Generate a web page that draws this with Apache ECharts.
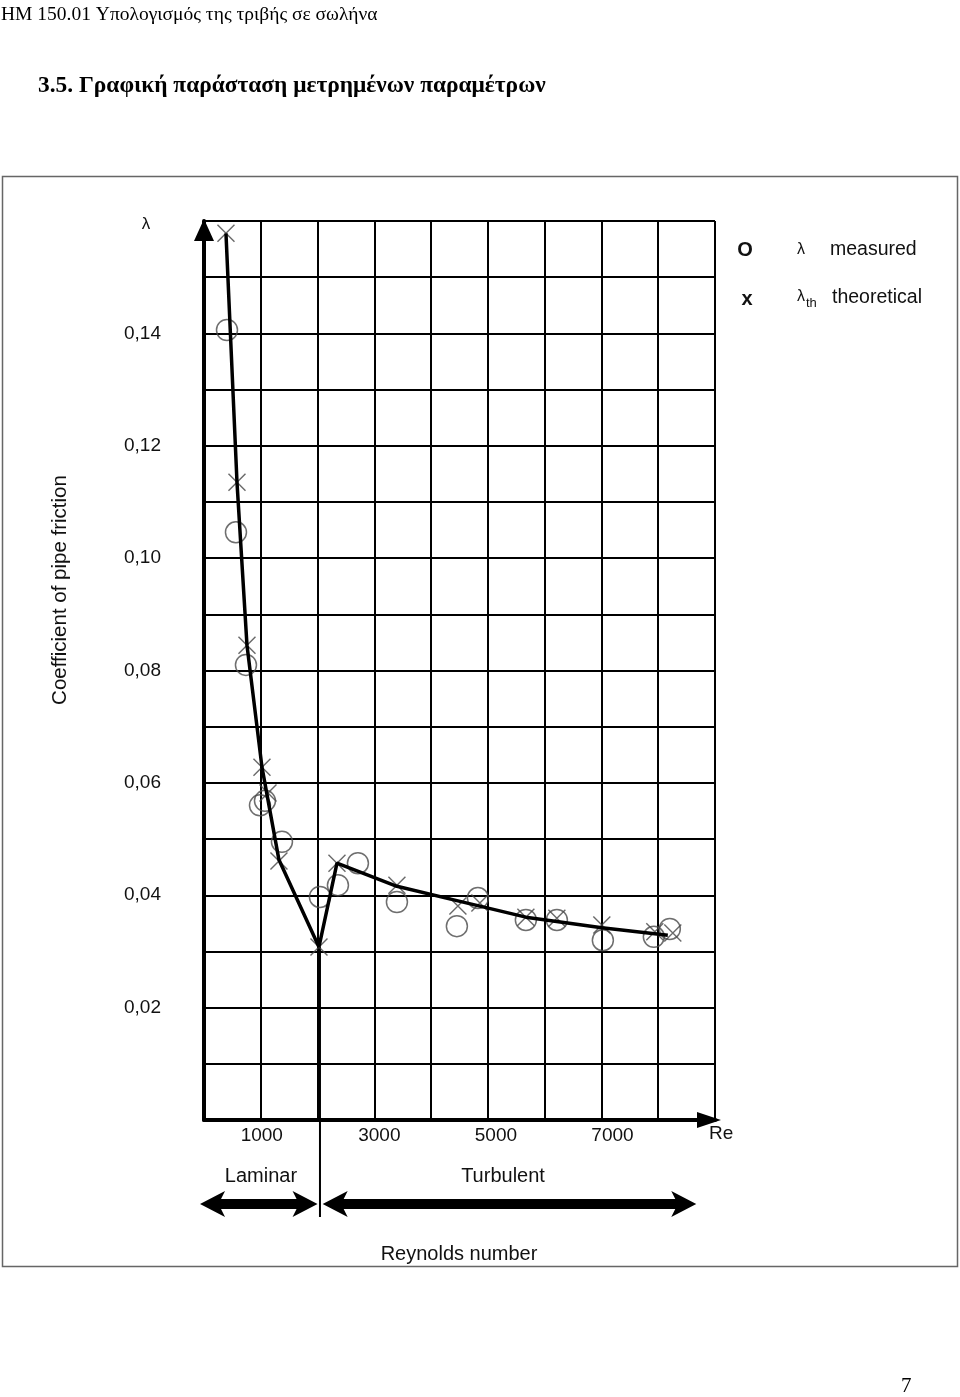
<!DOCTYPE html>
<html>
<head>
<meta charset="utf-8">
<script src="https://cdn.jsdelivr.net/npm/echarts@6/dist/echarts.min.js"></script>
<style>
	html, body { margin: 0; padding: 0; background: #fff; }
	#page { position: relative; width: 960px; height: 1397px; overflow: hidden; }
	#chart { position: absolute; left: 0; top: 0; width: 960px; height: 1397px; }
	.txt { position: absolute; font-family: 'Liberation Serif', 'Times New Roman', serif; color: #000; white-space: nowrap; z-index: 2; }
	#head { left: 1px; top: 4px; font-size: 19.5px; line-height: 19px; }
	#title { left: 38px; top: 72px; font-size: 23.4px; line-height: 24px; font-weight: bold; }
	#pageno { left: 901px; top: 1375px; font-size: 21px; line-height: 21px; }
</style>
</head>
<body>
<div id="page">
	<div id="chart"></div>
	<div class="txt" id="head">HM 150.01 Υπολογισμός της τριβής σε σωλήνα</div>
	<div class="txt" id="title">3.5. Γραφική παράσταση μετρημένων παραμέτρων</div>
	<div class="txt" id="pageno">7</div>
</div>
<script>
const SANS = '"Liberation Sans", Arial, sans-serif';

// axis labels
const reTicks = [1000, 3000, 5000, 7000];
const lambdaTicks = [0.02, 0.04, 0.06, 0.08, 0.10, 0.12, 0.14];

// λ measured (circles)
const measuredRe = [405, 563, 739, 986, 1074, 1373, 2042, 2359, 2711, 3398, 4454, 4824, 5669, 6215, 7025, 7923, 8204];
const measuredLambda = [0.1406, 0.1046, 0.0810, 0.0560, 0.0568, 0.0495, 0.0397, 0.0418, 0.0457, 0.0388, 0.0345, 0.0395, 0.0356, 0.0356, 0.0320, 0.0326, 0.0340];

// λth theoretical (crosses)
const theoryRe = [387, 581, 757, 1021, 1127, 1320, 2025, 2342, 3398, 4472, 4859, 5669, 6215, 7007, 7940, 8257];
const theoryLambda = [0.1578, 0.1135, 0.0845, 0.0628, 0.0582, 0.0461, 0.0308, 0.0457, 0.0418, 0.0381, 0.0386, 0.0361, 0.0359, 0.0347, 0.0335, 0.0333];

// theoretical curve vertices
const curveRe = [387, 581, 757, 1021, 1320, 2025, 2342, 3398, 4472, 5669, 7007, 8169];
const curveLambda = [0.1578, 0.1135, 0.0845, 0.0628, 0.0463, 0.0308, 0.0457, 0.0416, 0.0390, 0.0361, 0.0342, 0.0329];

// flow regimes along Re
const laminarRange = [-70, 2000];
const turbulentRange = [2090, 8670];

const zip = (a, b) => a.map((v, i) => [v, b[i]]);

const chart = echarts.init(document.getElementById('chart'), null, { renderer: 'canvas' });

// the scanned x labels drift a little to the right of their grid lines
const labelShift = { 1000: 2, 3000: 10, 5000: 16, 7000: 22 };
const richShift = {};
Object.keys(labelShift).forEach(k => {
	richShift['p' + k] = { padding: [0, 0, 0, labelShift[k]], fontSize: 19, fontFamily: SANS, color: '#111' };
});

chart.setOption({
	animation: false,
	backgroundColor: '#fff',
	grid: { left: 204, top: 221, width: 511, height: 899 },
	xAxis: {
		type: 'value', min: 0, max: 9000, interval: 1000,
		axisLine: {
			show: true, lineStyle: { color: '#000', width: 4 },
			symbol: ['none', 'triangle'], symbolSize: [16, 24], symbolOffset: [0, -6]
		},
		axisTick: { show: false },
		splitLine: { show: true, lineStyle: { color: '#000', width: 2 } },
		axisLabel: {
			margin: 6, fontSize: 19, fontFamily: SANS, color: '#111', rich: richShift,
			formatter: v => reTicks.includes(v) ? '{p' + v + '|' + v + '}' : ''
		}
	},
	yAxis: {
		type: 'value', min: 0, max: 0.16, interval: 0.01,
		axisLine: {
			show: true, lineStyle: { color: '#000', width: 4 },
			symbol: ['none', 'triangle'], symbolSize: [20, 22], symbolOffset: [0, -9]
		},
		axisTick: { show: false },
		splitLine: { show: true, lineStyle: { color: '#000', width: 2 } },
		axisLabel: {
			margin: 43, fontSize: 19, fontFamily: SANS, color: '#111',
			formatter: v => lambdaTicks.some(t => Math.abs(t - v) < 1e-6) ? v.toFixed(2).replace('.', ',') : ''
		}
	},
	series: [
		{
			name: 'curve', type: 'line', data: zip(curveRe, curveLambda),
			showSymbol: false, silent: true, z: 4,
			lineStyle: { color: '#000', width: 3.5 }
		},
		{
			name: 'λth theoretical', type: 'scatter', data: zip(theoryRe, theoryLambda),
			symbol: 'path://M0,0L10,10M10,0L0,10', symbolSize: 17, silent: true, z: 3,
			itemStyle: { color: 'transparent', borderColor: '#444', borderWidth: 1.4 }
		},
		{
			name: 'λ measured', type: 'scatter', data: zip(measuredRe, measuredLambda),
			symbol: 'circle', symbolSize: 21, silent: true, z: 3,
			itemStyle: { color: 'transparent', borderColor: '#4a4a4a', borderWidth: 1.5 }
		}
	]
});

const px = p => chart.convertToPixel({ gridIndex: 0 }, p);
const text = (t, x, y, size, extra) => ({
	type: 'text', x, y, silent: true,
	style: Object.assign({ text: t, fontSize: size, fontFamily: SANS, fill: '#111', align: 'center', verticalAlign: 'middle' }, extra || {})
});
const arrow = (range, y) => {
	const x1 = px([range[0], 0])[0], x2 = px([range[1], 0])[0];
	const hl = 25, hh = 13, sh = 5;
	return {
		type: 'polygon', silent: true,
		shape: { points: [
			[x1, y], [x1 + hl, y - hh], [x1 + hl - 4, y - sh], [x2 - hl + 4, y - sh], [x2 - hl, y - hh],
			[x2, y], [x2 - hl, y + hh], [x2 - hl + 4, y + sh], [x1 + hl - 4, y + sh], [x1 + hl, y + hh]
		] },
		style: { fill: '#000' }
	};
};
const minPt = px([curveRe[5], curveLambda[5]]);

chart.setOption({
	graphic: [
		{ type: 'rect', silent: true, shape: { x: 2.5, y: 176.5, width: 955, height: 1090 }, style: { fill: 'none', stroke: '#666', lineWidth: 1.5 } },
		text('λ', 146, 224, 17),
		{
			type: 'text', x: 60, y: 590, rotation: Math.PI / 2, silent: true,
			style: { text: 'Coefficient of pipe friction', fontSize: 20.5, fontFamily: SANS, fill: '#111', align: 'center', verticalAlign: 'middle' }
		},
		text('Re', 709, 1134, 19, { align: 'left' }),
		text('Laminar', 261, 1176, 20),
		text('Turbulent', 503, 1176, 20),
		text('Reynolds number', 459, 1254, 20),
		text('O', 745, 250, 20, { fontWeight: 'bold' }),
		text('λ', 801, 250, 16),
		text('measured', 830, 250, 19.5, { align: 'left' }),
		text('x', 747, 299, 20, { fontWeight: 'bold' }),
		text('λ', 801, 297, 16),
		text('th', 806, 303, 13, { align: 'left' }),
		text('theoretical', 832, 298, 19.5, { align: 'left' }),
		{ type: 'line', silent: true, shape: { x1: minPt[0] + 1, y1: minPt[1], x2: minPt[0] + 1, y2: 1217 }, style: { stroke: '#000', lineWidth: 2 } },
		arrow(laminarRange, 1204),
		arrow(turbulentRange, 1204)
	]
});
</script>
</body>
</html>
